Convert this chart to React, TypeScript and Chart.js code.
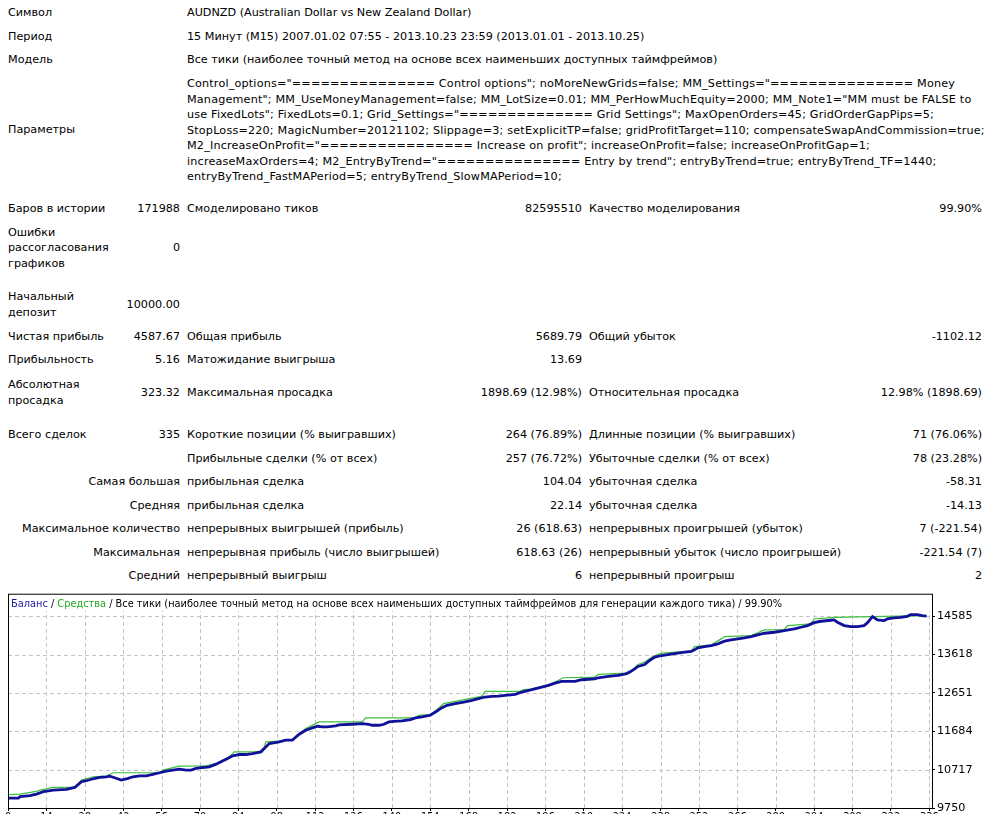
import React, { useEffect, useRef } from 'react';
import { Chart, registerables } from 'chart.js';

Chart.register(...registerables);

// ---- chart data (trade number -> account value) ----
const BALANCE_TRADES = [
  0, 3.8, 4.4, 8.0, 10.4, 12.9, 15.3, 16.5, 21.3, 24.4, 26.8, 28.6, 31.0, 33.4, 35.9, 37.1, 38.9, 41.3, 43.8, 45.6,
  48.0, 50.4, 52.8, 55.3, 57.7, 60.1, 62.5, 65.0, 66.8, 68.6, 71.0, 73.4, 75.9, 77.7, 80.1, 81.9, 84.4, 86.8, 89.2, 92.2,
  94.1, 95.3, 98.9, 101.3, 103.7, 106.2, 108.6, 111.0, 112.8, 114.7, 116.5, 119.5, 120.7, 125.6, 129.2, 131.6, 132.8, 135.3, 137.1, 138.9,
  140.7, 143.7, 146.8, 148.6, 151.0, 154.0, 155.9, 158.3, 160.1, 163.1, 166.2, 169.2, 171.6, 174.0, 176.5, 178.9, 181.3, 185.0, 187.4, 191.0,
  194.7, 197.1, 199.5, 201.9, 206.8, 209.2, 214.0, 215.3, 218.9, 222.5, 225.6, 226.8, 228.6, 229.8, 232.2, 234.0, 235.9, 238.3, 240.7, 244.3,
  246.8, 249.2, 250.4, 251.6, 254.0, 256.5, 258.9, 261.3, 263.7, 266.2, 268.6, 271.0, 273.4, 275.9, 279.5, 283.1, 286.8, 289.2, 291.6, 294.0,
  296.5, 300.1, 301.3, 302.5, 305.0, 307.4, 309.8, 312.2, 313.4, 314.6, 315.3, 317.1, 319.5, 320.7, 323.1, 325.6, 328.0, 329.2, 331.6, 333.4,
  335.0,
];
const BALANCE = [
  10000, 10000, 10035, 10060, 10102, 10160, 10185, 10202, 10219, 10269, 10412, 10437, 10487, 10520, 10537, 10554, 10512, 10453, 10495, 10537,
  10562, 10562, 10596, 10638, 10680, 10705, 10730, 10705, 10705, 10746, 10771, 10788, 10855, 10914, 10998, 11065, 11098, 11098, 11123, 11165,
  11291, 11374, 11416, 11458, 11458, 11609, 11710, 11768, 11810, 11794, 11794, 11818, 11843, 11860, 11877, 11860, 11835, 11835, 11860, 11919,
  11935, 11944, 11977, 12019, 12044, 12086, 12170, 12279, 12337, 12379, 12421, 12463, 12505, 12547, 12563, 12568, 12588, 12614, 12672, 12731,
  12798, 12840, 12898, 12940, 12940, 12982, 13007, 13032, 13066, 13091, 13133, 13175, 13258, 13317, 13367, 13468, 13551, 13593, 13618, 13652,
  13677, 13694, 13736, 13786, 13819, 13844, 13886, 13953, 13987, 14012, 14037, 14071, 14112, 14154, 14179, 14221, 14263, 14305, 14347, 14422,
  14456, 14481, 14489, 14431, 14347, 14322, 14322, 14347, 14414, 14514, 14573, 14489, 14472, 14514, 14539, 14556, 14581, 14623, 14623, 14598,
  14588,
];
const EQUITY_TRADES = [
  0.5, 4.4, 10.4, 11.6, 16.5, 24.4, 26.8, 31.0, 35.9, 38.3, 55.3, 56.5, 62.5, 72.2, 75.9, 80.7, 82.5, 92.8, 94.1, 98.9,
  103.7, 106.2, 108.6, 113.4, 129.2, 130.4, 148.6, 149.8, 154.6, 158.9, 166.8, 172.8, 174.0, 186.8, 188.0, 191.0, 194.7, 198.3, 202.5, 214.0,
  215.3, 225.0, 227.4, 229.8, 232.2, 234.7, 238.3, 249.2, 250.4, 256.5, 260.1, 261.3, 271.0, 275.9, 283.1, 284.3, 292.8, 294.0, 301.3, 329.2,
  335.0,
];
const EQUITY = [
  10085, 10102, 10169, 10202, 10269, 10269, 10453, 10537, 10554, 10638, 10638, 10705, 10805, 10814, 10872, 11039, 11165, 11165, 11416, 11433,
  11475, 11626, 11751, 11919, 11919, 12019, 12019, 12086, 12111, 12379, 12488, 12563, 12689, 12689, 12731, 12748, 12815, 12882, 13032, 13049,
  13116, 13150, 13217, 13367, 13426, 13551, 13652, 13702, 13819, 13861, 14012, 14071, 14096, 14238, 14246, 14347, 14389, 14514, 14556, 14590,
  14590,
];
const Y_TICKS = [9750, 10717, 11684, 12651, 13618, 14585];
const Y_MIN = 9750;
const Y_MAX = 15150;
const X_TICKS = [0, 14, 28, 42, 56, 70, 84, 98, 112, 126, 140, 154, 168, 182, 196, 210, 224, 238, 252, 266, 280, 294, 308, 322, 336];
const X_MAX = 337;

const FONT = "'DejaVu Sans', Tahoma, sans-serif";
const FS = 11.2;
const TITLE_FS = 9.8;
const LH = 15.5;
const GRID_COLOR = '#c4c4c4';

const PARAM_LINES = [
  'Control_options="=============== Control options"; noMoreNewGrids=false; MM_Settings="=============== Money',
  'Management"; MM_UseMoneyManagement=false; MM_LotSize=0.01; MM_PerHowMuchEquity=2000; MM_Note1="MM must be FALSE to',
  'use FixedLots"; FixedLots=0.1; Grid_Settings="============== Grid Settings"; MaxOpenOrders=45; GridOrderGapPips=5;',
  'StopLoss=220; MagicNumber=20121102; Slippage=3; setExplicitTP=false; gridProfitTarget=110; compensateSwapAndCommission=true;',
  'M2_IncreaseOnProfit="================ Increase on profit"; increaseOnProfit=false; increaseOnProfitGap=1;',
  'increaseMaxOrders=4; M2_EntryByTrend="=============== Entry by trend"; entryByTrend=true; entryByTrend_TF=1440;',
  'entryByTrend_FastMAPeriod=5; entryByTrend_SlowMAPeriod=10;',
];

type Cell = { t: string; x?: number; r?: number; y: number; ls?: number };

const CELLS: Cell[] = [
  { t: 'Символ', x: 8, y: 13 },
  { t: 'AUDNZD (Australian Dollar vs New Zealand Dollar)', x: 187, y: 13 },
  { t: 'Период', x: 8, y: 37 },
  { t: '15 Минут (M15) 2007.01.02 07:55 - 2013.10.23 23:59 (2013.01.01 - 2013.10.25)', x: 187, y: 37 },
  { t: 'Модель', x: 8, y: 60 },
  { t: 'Все тики (наиболее точный метод на основе всех наименьших доступных таймфреймов)', x: 187, y: 60 },
  { t: 'Параметры', x: 8, y: 130 },
  ...PARAM_LINES.map((t, i) => ({ t, x: 187, y: 84 + i * LH, ls: 0.18 })),

  { t: 'Баров в истории', x: 8, y: 209 },
  { t: '171988', r: 180, y: 209 },
  { t: 'Смоделировано тиков', x: 187, y: 209 },
  { t: '82595510', r: 582, y: 209 },
  { t: 'Качество моделирования', x: 589, y: 209 },
  { t: '99.90%', r: 982, y: 209 },

  { t: 'Ошибки', x: 8, y: 232.5 },
  { t: 'рассогласования', x: 8, y: 248 },
  { t: 'графиков', x: 8, y: 263.5 },
  { t: '0', r: 180, y: 248 },

  { t: 'Начальный', x: 8, y: 297 },
  { t: 'депозит', x: 8, y: 312.5 },
  { t: '10000.00', r: 180, y: 305 },

  { t: 'Чистая прибыль', x: 8, y: 337 },
  { t: '4587.67', r: 180, y: 337 },
  { t: 'Общая прибыль', x: 187, y: 337 },
  { t: '5689.79', r: 582, y: 337 },
  { t: 'Общий убыток', x: 589, y: 337 },
  { t: '-1102.12', r: 982, y: 337 },

  { t: 'Прибыльность', x: 8, y: 360 },
  { t: '5.16', r: 180, y: 360 },
  { t: 'Матожидание выигрыша', x: 187, y: 360 },
  { t: '13.69', r: 582, y: 360 },

  { t: 'Абсолютная', x: 8, y: 385 },
  { t: 'просадка', x: 8, y: 400.5 },
  { t: '323.32', r: 180, y: 393 },
  { t: 'Максимальная просадка', x: 187, y: 393 },
  { t: '1898.69 (12.98%)', r: 582, y: 393 },
  { t: 'Относительная просадка', x: 589, y: 393 },
  { t: '12.98% (1898.69)', r: 982, y: 393 },

  { t: 'Всего сделок', x: 8, y: 435 },
  { t: '335', r: 180, y: 435 },
  { t: 'Короткие позиции (% выигравших)', x: 187, y: 435 },
  { t: '264 (76.89%)', r: 582, y: 435 },
  { t: 'Длинные позиции (% выигравших)', x: 589, y: 435 },
  { t: '71 (76.06%)', r: 982, y: 435 },

  { t: 'Прибыльные сделки (% от всех)', x: 187, y: 458.5 },
  { t: '257 (76.72%)', r: 582, y: 458.5 },
  { t: 'Убыточные сделки (% от всех)', x: 589, y: 458.5 },
  { t: '78 (23.28%)', r: 982, y: 458.5 },

  { t: 'Самая большая', r: 180, y: 482 },
  { t: 'прибыльная сделка', x: 187, y: 482 },
  { t: '104.04', r: 582, y: 482 },
  { t: 'убыточная сделка', x: 589, y: 482 },
  { t: '-58.31', r: 982, y: 482 },

  { t: 'Средняя', r: 180, y: 505.5 },
  { t: 'прибыльная сделка', x: 187, y: 505.5 },
  { t: '22.14', r: 582, y: 505.5 },
  { t: 'убыточная сделка', x: 589, y: 505.5 },
  { t: '-14.13', r: 982, y: 505.5 },

  { t: 'Максимальное количество', r: 180, y: 529 },
  { t: 'непрерывных выигрышей (прибыль)', x: 187, y: 529 },
  { t: '26 (618.63)', r: 582, y: 529 },
  { t: 'непрерывных проигрышей (убыток)', x: 589, y: 529 },
  { t: '7 (-221.54)', r: 982, y: 529 },

  { t: 'Максимальная', r: 180, y: 552.5 },
  { t: 'непрерывная прибыль (число выигрышей)', x: 187, y: 552.5 },
  { t: '618.63 (26)', r: 582, y: 552.5 },
  { t: 'непрерывный убыток (число проигрышей)', x: 589, y: 552.5 },
  { t: '-221.54 (7)', r: 982, y: 552.5 },

  { t: 'Средний', r: 180, y: 576 },
  { t: 'непрерывный выигрыш', x: 187, y: 576 },
  { t: '6', r: 582, y: 576 },
  { t: 'непрерывный проигрыш', x: 589, y: 576 },
  { t: '2', r: 982, y: 576 },
];

const CANVAS_TOP = 585;
const CANVAS_W = 1008;
const CANVAS_H = 250;
const TITLE_BAND = 17;

const framePlugin = {
  id: 'mtFrame',
  beforeDatasetsDraw(chart: any) {
    const { ctx, chartArea: a, scales } = chart;
    ctx.save();
    ctx.strokeStyle = GRID_COLOR;
    ctx.lineWidth = 1;
    ctx.setLineDash([4, 3]);
    const topY = a.top + TITLE_BAND;
    X_TICKS.forEach((v) => {
      const px = Math.round(scales.x.getPixelForValue(v)) + 0.5;
      if (px <= a.left + 1 || px >= a.right - 1) return;
      ctx.beginPath();
      ctx.moveTo(px, a.bottom);
      ctx.lineTo(px, topY);
      ctx.stroke();
    });
    Y_TICKS.forEach((v) => {
      const py = Math.round(scales.y.getPixelForValue(v)) + 0.5;
      if (py >= a.bottom - 1) return;
      ctx.beginPath();
      ctx.moveTo(a.left, py);
      ctx.lineTo(a.right, py);
      ctx.stroke();
    });
    ctx.restore();
  },
  afterDraw(chart: any) {
    const { ctx, chartArea: a } = chart;
    ctx.save();
    ctx.strokeStyle = '#000000';
    ctx.lineWidth = 1;
    ctx.strokeRect(a.left + 0.5, a.top + 0.5, a.right - a.left, a.bottom - a.top);
    ctx.restore();
  },
};

function EquityChart() {
  const ref = useRef<HTMLCanvasElement | null>(null);
  useEffect(() => {
    if (!ref.current) return;
    const chart = new Chart(ref.current, {
      type: 'line',
      data: {
        datasets: [
          {
            label: 'Баланс',
            data: BALANCE_TRADES.map((t, i) => ({ x: t, y: BALANCE[i] })),
            borderColor: '#10109a',
            borderWidth: 2.8,
            pointRadius: 0,
            tension: 0,
          },
          {
            label: 'Средства',
            data: EQUITY_TRADES.map((t, i) => ({ x: t, y: EQUITY[i] })),
            borderColor: '#3cbf3c',
            borderWidth: 1.2,
            pointRadius: 0,
            tension: 0,
          },
        ],
      },
      options: {
        animation: false,
        responsive: false,
        devicePixelRatio: 1,
        layout: { padding: { left: 8, top: 8, right: 0, bottom: 0 } },
        plugins: { legend: { display: false }, tooltip: { enabled: false }, title: { display: false } },
        scales: {
          x: {
            type: 'linear',
            min: 0,
            max: X_MAX,
            afterBuildTicks: (s: any) => {
              s.ticks = X_TICKS.map((v) => ({ value: v }));
            },
            afterFit: (s: any) => {
              s.height = 27;
            },
            ticks: {
              autoSkip: false,
              maxRotation: 0,
              padding: 1,
              color: '#000',
              font: { family: FONT, size: TITLE_FS },
              callback: (v: any) => String(v),
            },
            grid: { drawOnChartArea: false, tickColor: '#000', tickLength: 3, lineWidth: 1 },
            border: { display: false },
          },
          y: {
            type: 'linear',
            position: 'right',
            min: Y_MIN,
            max: Y_MAX,
            afterBuildTicks: (s: any) => {
              s.ticks = Y_TICKS.map((v) => ({ value: v }));
            },
            afterFit: (s: any) => {
              s.width = 76;
            },
            ticks: {
              padding: 2,
              color: '#000',
              font: { family: FONT, size: FS },
              callback: (v: any) => String(v),
            },
            grid: { drawOnChartArea: false, tickColor: '#000', tickLength: 3, lineWidth: 1 },
            border: { display: false },
          },
        },
      },
      plugins: [framePlugin],
    } as any);
    return () => chart.destroy();
  }, []);
  return (
    <div style={{ position: 'absolute', left: 0, top: CANVAS_TOP, width: CANVAS_W, height: CANVAS_H }}>
      <canvas ref={ref} width={CANVAS_W} height={CANVAS_H} style={{ width: CANVAS_W, height: CANVAS_H, display: 'block' }} />
      <div
        style={{
          position: 'absolute',
          left: 11,
          top: 604 - CANVAS_TOP - 7,
          lineHeight: '14px',
          whiteSpace: 'nowrap',
          fontFamily: FONT,
          fontSize: TITLE_FS,
          color: '#000',
        }}
      >
        <span style={{ color: '#1a1aa8' }}>Баланс</span> / <span style={{ color: '#22aa22' }}>Средства</span> / Все тики
        (наиболее точный метод на основе всех наименьших доступных таймфреймов для генерации каждого тика) / 99.90%
      </div>
    </div>
  );
}

export default function App() {
  return (
    <div
      style={{
        position: 'absolute',
        left: 0,
        top: 0,
        width: 1008,
        height: 835,
        background: '#fff',
        fontFamily: FONT,
        fontSize: FS,
        color: '#000',
      }}
    >
      {CELLS.map((c, i) => {
        const style: React.CSSProperties = {
          position: 'absolute',
          top: c.y - LH / 2,
          lineHeight: LH + 'px',
          whiteSpace: 'nowrap',
          letterSpacing: c.ls ? c.ls + 'px' : undefined,
        };
        if (c.x !== undefined) style.left = c.x;
        else style.right = 1008 - (c.r as number);
        return (
          <div key={i} style={style}>
            {c.t}
          </div>
        );
      })}
      <EquityChart />
    </div>
  );
}
